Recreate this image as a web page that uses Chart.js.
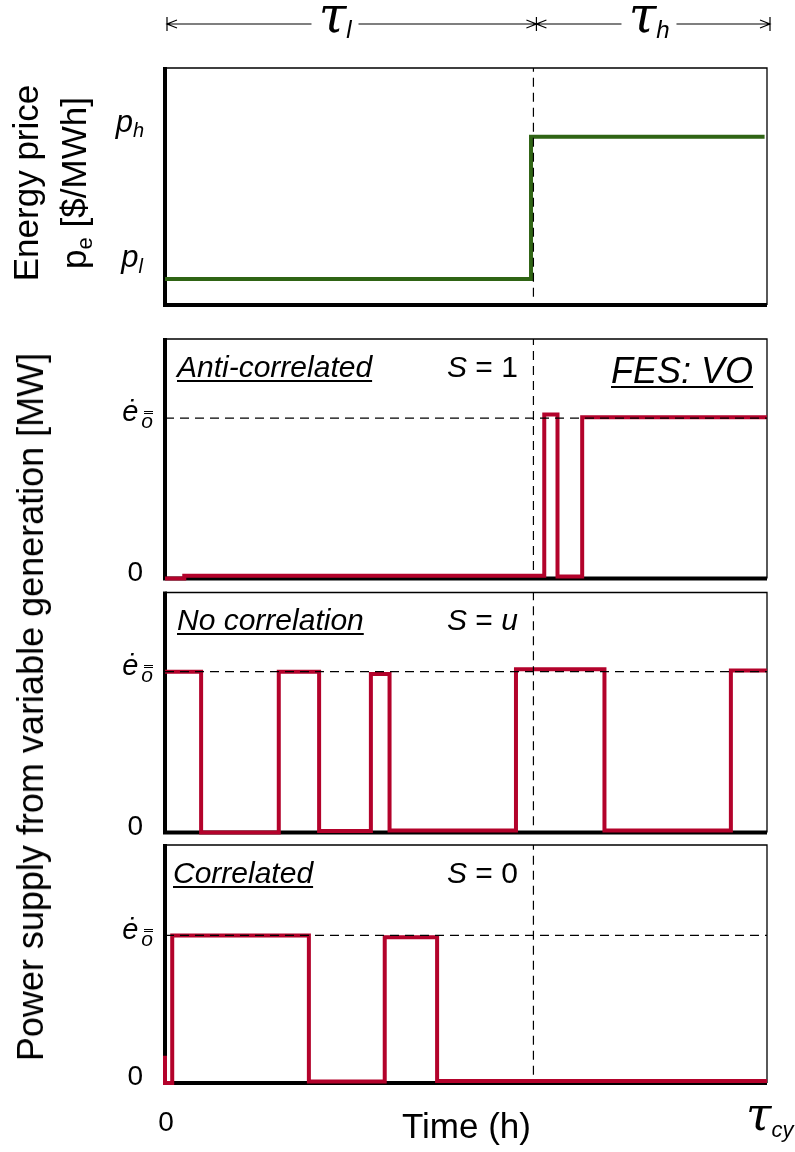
<!DOCTYPE html>
<html>
<head>
<meta charset="utf-8">
<title>FES: VO - variable generation vs. energy price</title>
<script src="https://cdn.jsdelivr.net/npm/chart.js@4.4.0/dist/chart.umd.min.js"></script>
<style>
  html, body { margin: 0; padding: 0; background: #fff; }
  #wrap { position: relative; width: 795px; height: 1152px; overflow: hidden;
          font-family: "Liberation Sans", Arial, Helvetica, sans-serif; color: #000; }
  #wrap canvas { position: absolute; left: 0; top: 0; }
  .lbl { position: absolute; white-space: nowrap; line-height: 1; }
  .it { font-style: italic; }
  .ul { text-decoration: underline; text-decoration-thickness: 1.5px; text-underline-offset: 3px; }
  .tau { font-family: "DejaVu Serif", serif; font-style: italic; }
  .sb { position: relative; font-style: italic; font-family: "Liberation Sans", Arial, sans-serif; }
  .oo { position: relative; font-style: italic; margin-left: 3px; }
  .oo::before { content: ''; position: absolute; left: 3px; right: 0; top: 2px; height: 1px;
                border-top: 1px solid #000; border-bottom: 1px solid #000; }
  .bg { background: #fff; padding: 0 7px; }
  .rot { position: absolute; white-space: nowrap; text-align: center;
         transform: translate(-50%, -50%) rotate(-90deg); }
</style>
</head>
<body>
<div id="wrap">
  <canvas id="c1" width="795" height="1152"></canvas>
  <canvas id="c2" width="795" height="1152"></canvas>
  <canvas id="c3" width="795" height="1152"></canvas>
  <canvas id="c4" width="795" height="1152"></canvas>

  <div class="rot" style="left:52px; top:183px; font-size:35px; line-height:48px;">Energy price<br>p<span style="font-size:22px; position:relative; top:6px;">e</span> [$/MWh]</div>
  <div class="rot" style="left:31px; top:707px; font-size:36px; line-height:1;">Power supply from variable generation [MW]</div>
</div>

<script>
// time axis: percent of the cycle, 0 = start, 100 = tau_cy
const tauL = 61.2;                 // end of the low price period
const timeMin = 0;
const timeMax = 100;

// energy price (p_l then p_h), normalised units
const priceBreaks = [0, 60.8, 99.6];
const priceLevels = [0.11, 0.71];

// anti-correlated supply, S = 1
const antiBreaks = [0, 3.2, 63.0, 65.2, 69.3, 100];
const antiLevels = [0, 0.012, 0.685, 0.008, 0.673];
const antiE = 0.67;

// no correlation, S = u
const noneBreaks = [0, 6.0, 18.9, 25.6, 34.2, 37.3, 58.3, 73.0, 94.0, 100];
const noneLevels = [0.67, 0.0, 0.67, 0.006, 0.66, 0.008, 0.68, 0.008, 0.675];
const noneE = 0.67;

// correlated, S = 0
const corrBreaks = [0, 0, 1.2, 23.9, 36.5, 45.2, 100];
const corrLevels = [0.115, 0, 0.62, 0.006, 0.612, 0.008];
const corrE = 0.62;

// where the dashed tau_l line stops above the axis
const dashEnd = [0.035, 0.035, 0.03, 0.035];

// plot areas (top, bottom) of the four panels, left/right shared
const plotLeft = 165, plotRight = 767;
const panelTop = [68, 339, 592.5, 845];
const panelBottom = [305, 578.5, 832.5, 1083];

const red = '#b3022b';
const green = '#2f6414';

function steps(breaks, levels) {
  const pts = [];
  for (let i = 0; i < levels.length; i++) {
    pts.push({x: breaks[i], y: levels[i]});
    pts.push({x: breaks[i + 1], y: levels[i]});
  }
  return pts;
}

const framePlugin = {
  id: 'frame',
  beforeDatasetsDraw(chart) {
    const ctx = chart.ctx, a = chart.chartArea;
    ctx.save();
    ctx.strokeStyle = '#000';
    ctx.lineWidth = 1.3;
    ctx.beginPath();
    ctx.moveTo(a.left, a.top);
    ctx.lineTo(a.right, a.top);
    ctx.lineTo(a.right, a.bottom);
    ctx.stroke();
    ctx.lineWidth = 4;
    ctx.beginPath();
    ctx.moveTo(a.left, a.top - 1);
    ctx.lineTo(a.left, a.bottom + 2);
    ctx.moveTo(a.left - 2, a.bottom);
    ctx.lineTo(a.right, a.bottom);
    ctx.stroke();
    ctx.restore();
  }
};

// the |<-- tau_l -->|<-- tau_h -->| arrows above the price panel
const periodPlugin = {
  id: 'periods',
  afterDraw(chart) {
    const ctx = chart.ctx, xs = chart.scales.x;
    const y = 24;
    const x0 = xs.getPixelForValue(timeMin) + 2;
    const x1 = xs.getPixelForValue(tauL) + 3;
    const x2 = xs.getPixelForValue(timeMax) + 3;
    ctx.save();
    ctx.strokeStyle = '#000';
    ctx.lineWidth = 1.2;
    ctx.beginPath();
    ctx.moveTo(x0, y);
    ctx.lineTo(x2, y);
    [x0, x1, x2].forEach(x => { ctx.moveTo(x, y - 7); ctx.lineTo(x, y + 7); });
    const head = (x, dir) => {
      ctx.moveTo(x + dir * 10, y - 4);
      ctx.lineTo(x, y);
      ctx.lineTo(x + dir * 10, y + 4);
    };
    head(x0, 1); head(x1, -1); head(x1, 1); head(x2, -1);
    ctx.stroke();
    ctx.restore();
  }
};

function dashed(points) {
  return {
    data: points,
    borderColor: '#000',
    borderWidth: 1.2,
    borderDash: [9, 6],
    pointRadius: 0,
    clip: false
  };
}

function makePanel(id, i, datasets, extra) {
  return new Chart(document.getElementById(id), {
    type: 'line',
    data: { datasets: datasets },
    options: {
      responsive: false,
      animation: false,
      events: [],
      layout: { padding: { left: plotLeft, right: 795 - plotRight, top: panelTop[i], bottom: 1152 - panelBottom[i] } },
      elements: { line: { tension: 0, borderJoinStyle: 'miter', borderCapStyle: 'butt' }, point: { radius: 0 } },
      scales: {
        x: { type: 'linear', min: timeMin, max: timeMax, display: false },
        y: { type: 'linear', min: 0, max: 1, display: false }
      },
      plugins: { legend: { display: false }, tooltip: { enabled: false } }
    },
    plugins: [framePlugin].concat(extra || [])
  });
}

function supplySets(breaks, levels, e, i) {
  return [
    dashed([{x: timeMin, y: e}, {x: timeMax, y: e}]),
    dashed([{x: tauL, y: dashEnd[i]}, {x: tauL, y: 1}]),
    { data: steps(breaks, levels), borderColor: red, borderWidth: 4, pointRadius: 0, clip: false }
  ];
}

const chartPrice = makePanel('c1', 0, [
  dashed([{x: tauL, y: dashEnd[0]}, {x: tauL, y: 1}]),
  { data: steps(priceBreaks, priceLevels), borderColor: green, borderWidth: 4, pointRadius: 0, clip: false }
], [periodPlugin]);
const chartAnti = makePanel('c2', 1, supplySets(antiBreaks, antiLevels, antiE, 1));
const chartNone = makePanel('c3', 2, supplySets(noneBreaks, noneLevels, noneE, 2));
const chartCorr = makePanel('c4', 3, supplySets(corrBreaks, corrLevels, corrE, 3));

// text overlays
const wrap = document.getElementById('wrap');
function addLabel(html, x, base, size, cls, align) {
  const d = document.createElement('div');
  d.className = 'lbl ' + (cls || '');
  d.innerHTML = html;
  d.style.fontSize = size + 'px';
  d.style.top = (base - 0.8465 * size) + 'px';
  if (align === 'right') d.style.right = (795 - x) + 'px';
  else if (align === 'center') { d.style.left = x + 'px'; d.style.transform = 'translateX(-50%)'; }
  else d.style.left = x + 'px';
  wrap.appendChild(d);
}

// price tick labels
const py = chartPrice.scales.y;
addLabel('p<span class="sb" style="font-size:20px; top:5px;">h</span>', 144, py.getPixelForValue(priceLevels[1]) - 4, 31, 'it', 'right');
addLabel('p<span class="sb" style="font-size:20px; top:6px;">l</span>', 143, py.getPixelForValue(priceLevels[0]) - 12, 31, 'it', 'right');

// supply tick labels
[[chartAnti, antiE], [chartNone, noneE], [chartCorr, corrE]].forEach(([ch, e]) => {
  const ys = ch.scales.y;
  addLabel('ė<span class="oo" style="font-size:21px; top:7px;">o</span>', 153, ys.getPixelForValue(e) + 4, 29, 'it', 'right');
  addLabel('0', 143, ys.getPixelForValue(0) + 3, 28, '', 'right');
});

// period labels
const xs = chartPrice.scales.x;
addLabel('<span class="bg"><span class="tau">τ</span><span class="sb" style="font-size:24px; top:6px;">l</span></span>', (xs.getPixelForValue(timeMin) + xs.getPixelForValue(tauL)) / 2 - 14, 32, 50, '', 'center');
addLabel('<span class="bg"><span class="tau">τ</span><span class="sb" style="font-size:24px; top:6px;">h</span></span>', (xs.getPixelForValue(tauL) + xs.getPixelForValue(timeMax)) / 2 - 1, 32, 50, '', 'center');

// panel annotations
addLabel('Anti-correlated', 177, 377, 30, 'it ul');
addLabel('<i>S</i> = 1', 447, 377, 30);
addLabel('FES: VO', 611, 383, 36, 'it ul');
addLabel('No correlation', 177, 630, 30, 'it ul');
addLabel('<i>S</i> = <i>u</i>', 447, 630, 30);
addLabel('Correlated', 173, 883, 30, 'it ul');
addLabel('<i>S</i> = 0', 447, 883, 30);

// time axis labels
addLabel('0', xs.getPixelForValue(timeMin) + 1, 1132, 28, '', 'center');
addLabel('Time (h)', 402, 1138, 35);
addLabel('<span class="tau">τ</span><span class="sb" style="font-size:22px; top:7px;">cy</span>', 746, 1130, 46);
</script>
</body>
</html>
